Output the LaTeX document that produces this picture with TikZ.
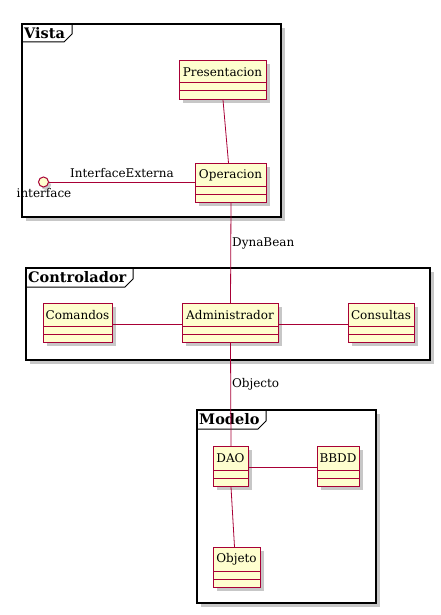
\documentclass[tikz,border=0pt]{standalone}
\usepackage{fontspec}
\setmainfont{DejaVu Serif}
\usetikzlibrary{calc}
\definecolor{umlred}{HTML}{A80036}
\definecolor{umlfill}{HTML}{FEFECE}
\tikzset{
  clsbox/.style={draw=umlred, fill=umlfill, line width=1pt, inner sep=0pt, rectangle},
  clsline/.style={draw=umlred, line width=1pt},
  clsfont/.style={font=\fontsize{12}{14}\selectfont, inner sep=0pt},
  shadowc/.style={fill=black!22},
  pkgframe/.style={draw=black, line width=1.5pt, fill=white},
  pkgtitle/.style={font=\bfseries\fontsize{14.5}{17}\selectfont, inner sep=0pt, anchor=west},
  conn/.style={draw=umlred, line width=0.8pt},
  elabel/.style={font=\fontsize{12}{14}\selectfont, inner sep=0pt},
}
\newcommand\umlcls[6]{%
  \fill[shadowc] (#2+4,#3+4) rectangle ++(#4,#5);
  \node[clsbox, anchor=north west, minimum width=#4pt, minimum height=#5pt] (#1) at (#2,#3) {};
  \node[clsfont] at (#2+#4/2, #3+12) {#6};
  \draw[clsline] (#2,#3+#5-16) -- ++(#4,0);
  \draw[clsline] (#2,#3+#5-8) -- ++(#4,0);
}
\newcommand\umlpkg[8]{% name x1 y1 x2 y2 tabR title tabB
  \fill[shadowc] (#2+4,#3+4) rectangle (#4+4,#5+4);
  \path[pkgframe] (#2,#3) rectangle (#4,#5);
  \node[inner sep=0pt, minimum width={(#4-#2)*1pt}, minimum height={(#5-#3)*1pt}, anchor=north west] (#1) at (#2,#3) {};
  \draw[line width=1pt] (#2,#8) -- (#6-8,#8) -- (#6,#8-8) -- (#6,#3);
  \node[pkgtitle] at (#2+2,{(#3+#8)/2}) {#7};
}
\begin{document}
\begin{tikzpicture}[x=1pt,y=-1pt]
\useasboundingbox[fill=white] (0,0) rectangle (441,615);
% packages
\umlpkg{vista}{22}{24}{281}{217}{72}{Vista}{42}
\umlpkg{controlador}{26}{268}{430}{360}{133}{Controlador}{287}
\umlpkg{modelo}{197}{410}{376}{603}{266}{Modelo}{429}
% classes
\umlcls{pres}{179}{60}{87}{39}{Presentacion}
\umlcls{oper}{195}{163}{71}{39}{Operacion}
\umlcls{com}{43}{303}{69}{39}{Comandos}
\umlcls{admin}{182}{303}{96}{39}{Administrador}
\umlcls{cons}{348}{303}{66}{39}{Consultas}
\umlcls{dao}{213}{446}{35}{40}{DAO}
\umlcls{bbdd}{317}{446}{42}{40}{BBDD}
\umlcls{obj}{213}{547}{47}{40}{Objeto}
% interface
\fill[shadowc] (46,185) circle (5pt);
\node[circle, draw=umlred, fill=umlfill, line width=1pt, minimum size=10pt, inner sep=0pt] (iface) at (43.5,182) {};
\node[elabel] (ifacelbl) at (44,193) {interface};
% connectors
\draw[conn] (iface) -- (iface -| oper.west) node[elabel, pos=0.5, above=4pt] {InterfaceExterna};
\draw[conn] (pres.south) -- ([xshift=-2.5pt]oper.north);
\draw[conn] (oper.south) -- (admin.north) node[elabel, pos=0.4, right=1pt] {DynaBean};
\draw[conn] (com.east |- 0,324) -- (admin.west |- 0,324);
\draw[conn] (admin.east |- 0,324) -- (cons.west |- 0,324);
\draw[conn] (admin.south) -- (dao.north) node[elabel, pos=0.4, right=1pt] {Objecto};
\draw[conn] (dao.east |- 0,467) -- (bbdd.west |- 0,467);
\draw[conn] (dao.south) -- ([xshift=-2.5pt]obj.north);
\end{tikzpicture}
\end{document}
